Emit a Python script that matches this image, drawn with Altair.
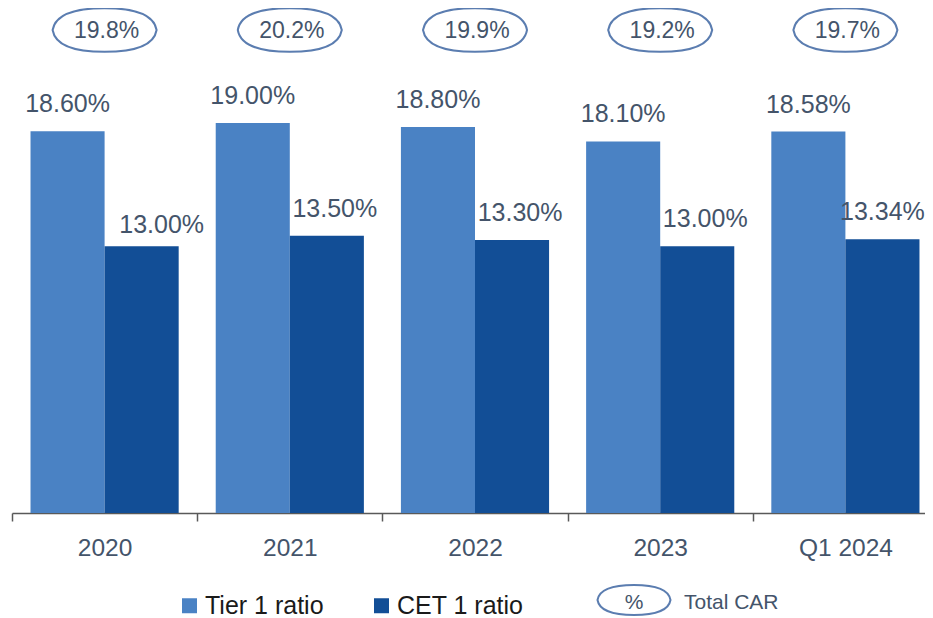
import altair as alt
import pandas as pd

years = ["2020", "2021", "2022", "2023", "Q1 2024"]
tier1 = [18.60, 19.00, 18.80, 18.10, 18.58]
cet1 = [13.00, 13.50, 13.30, 13.00, 13.34]
total_car = [19.8, 20.2, 19.9, 19.2, 19.7]
series = ["Tier 1 ratio", "CET 1 ratio"]
colors = ["#4A82C4", "#124E96"]

rows = []
for i, y in enumerate(years):
    rows.append({"year": y, "series": series[0], "value": tier1[i], "label": f"{tier1[i]:.2f}%"})
    rows.append({"year": y, "series": series[1], "value": cet1[i], "label": f"{cet1[i]:.2f}%"})
df = pd.DataFrame(rows)
car_df = pd.DataFrame({"year": years, "car": total_car, "label": [f"{v:.1f}%" for v in total_car]})

FONT = "Liberation Sans"
TXT = "#44546A"
OVAL = "M -1 0 C -0.95 -0.3 -0.6 -0.42 0 -0.42 C 0.6 -0.42 0.95 -0.3 1 0 C 0.95 0.3 0.6 0.42 0 0.42 C -0.6 0.42 -0.95 0.3 -1 0 Z"
OVAL_S = "M -1 0 C -0.95 -0.3 -0.6 -0.41 0 -0.41 C 0.6 -0.41 0.95 -0.3 1 0 C 0.95 0.3 0.6 0.41 0 0.41 C -0.6 0.41 -0.95 0.3 -1 0 Z"

x = alt.X("year:N", sort=years, title=None,
          scale=alt.Scale(paddingInner=0, paddingOuter=0, range=[0, 926]),
          axis=alt.Axis(labelAngle=0, tickBand="extent", grid=False))
y = alt.Y("value:Q", scale=alt.Scale(domain=[0, 24.6], nice=False), axis=None)
xo = alt.XOffset("series:N", sort=series, scale=alt.Scale(paddingInner=0, paddingOuter=0.25))

bars = alt.Chart(df).mark_bar().encode(
    x=x, y=y, xOffset=xo,
    color=alt.Color("series:N", sort=series,
                    scale=alt.Scale(domain=series, range=colors),
                    legend=alt.Legend(title=None, orient="none", legendX=165, legendY=585,
                                      direction="horizontal", symbolType="square",
                                      symbolSize=225, symbolStrokeWidth=0, symbolOpacity=1,
                                      labelFontSize=25, labelColor="#1A1A1A", labelFont=FONT,
                                      labelOffset=3, columnPadding=45)),
)

base_lbl = alt.Chart(df)
enc = dict(x=x, y=y, xOffset=xo, text="label:N")
tier_labels = base_lbl.mark_text(baseline="bottom", dy=-14, fontSize=25, font=FONT, color=TXT).encode(
    **enc
).transform_filter(alt.datum.series == series[0])
cet_labels = base_lbl.mark_text(baseline="bottom", dy=-14, dx=8, fontSize=25, font=FONT, color=TXT).encode(
    **enc
).transform_filter((alt.datum.series == series[1]) & (alt.datum.year != years[0]) & (alt.datum.year != years[-1]))
cet_first = base_lbl.mark_text(baseline="bottom", dy=-8, dx=20, fontSize=25, font=FONT, color=TXT).encode(
    **enc
).transform_filter((alt.datum.series == series[1]) & (alt.datum.year == years[0]))
cet_last = base_lbl.mark_text(baseline="bottom", dy=-14, dx=0, fontSize=25, font=FONT, color=TXT).encode(
    **enc
).transform_filter((alt.datum.series == series[1]) & (alt.datum.year == years[-1]))

ovals = alt.Chart(car_df).mark_point(shape=OVAL, size=10816, filled=False, stroke="#5B7DB0",
                                     strokeWidth=2, opacity=1).encode(
    x=x, y=alt.value(22)
)
oval_text = alt.Chart(car_df).mark_text(fontSize=23, font=FONT, color=TXT, baseline="middle", dx=2).encode(
    x=x, y=alt.value(23), text="label:N"
)

leg_oval = alt.Chart(pd.DataFrame({"k": ["%"]})).mark_point(
    shape=OVAL_S, size=5329, filled=False, stroke="#5B7DB0", strokeWidth=2, opacity=1
).encode(x=alt.value(622), y=alt.value(592))
leg_pct = alt.Chart(pd.DataFrame({"k": ["%"]})).mark_text(
    fontSize=21, font=FONT, color=TXT, baseline="middle"
).encode(x=alt.value(622), y=alt.value(595), text="k:N")
leg_car = alt.Chart(pd.DataFrame({"k": ["Total CAR"]})).mark_text(
    fontSize=21, font=FONT, color=TXT, baseline="middle", align="left"
).encode(x=alt.value(672), y=alt.value(595), text="k:N")

chart = alt.layer(bars, tier_labels, cet_labels, cet_first, cet_last, ovals, oval_text,
                  leg_oval, leg_pct, leg_car).properties(
    width=913, height=505,
    autosize=alt.AutoSizeParams(type="none"),
    padding={"left": 4, "top": 0, "right": 0, "bottom": 105},
).configure_view(stroke=None).configure_axis(
    domainColor="#595959", domainWidth=1.5, tickColor="#595959", tickWidth=1.5, tickSize=8,
    labelFontSize=24.5, labelColor=TXT, labelFont=FONT, labelPadding=15,
)

chart.save("out.html", embed_options={"renderer": "svg", "actions": False})
